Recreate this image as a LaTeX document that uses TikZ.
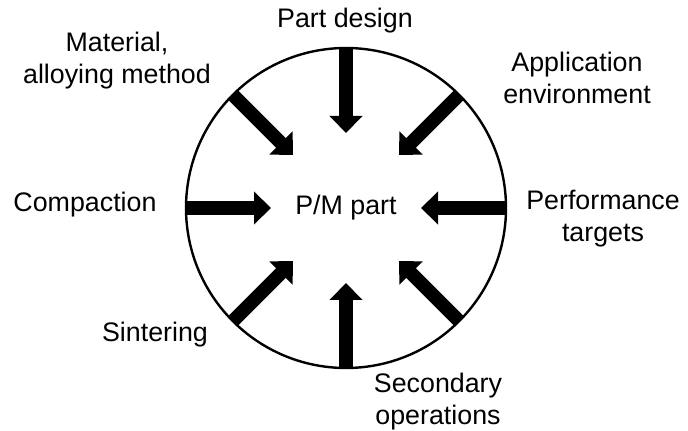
\documentclass[tikz,border=0pt]{standalone}
\usepackage{fontspec}
\setmainfont{Liberation Sans}
\usetikzlibrary{arrows.meta,positioning}

\begin{document}
\begin{tikzpicture}[x=0.5pt,y=-0.5pt,
  font=\fontsize{13.4}{16}\selectfont,
  feed/.style={line width=6.8pt,-{Triangle[width=16pt,length=8.5pt]}},
  lbl/.style={align=center,inner sep=0pt}]
  \useasboundingbox (0,0) rectangle (688,431);
  \node[circle,draw,line width=1.2pt,minimum size=160pt,inner sep=0pt,outer sep=0pt] (hub) at (346,208) {};
  \node[circle,minimum size=75pt,inner sep=0pt,outer sep=0pt] (part) at (hub.center) {P/M part};
  \foreach \a in {0,45,...,315}
    \draw[feed] (hub.\a) -- (part.\a);
  \node[lbl] (design) at (345,21) {Part design};
  \node[lbl] (material) at (117,61) {Material,\\alloying method};
  \node[lbl] (appl) at (577,78) {Application\\environment};
  \node[lbl] (compact) at (85,205) {Compaction};
  \node[lbl] (perf) at (603,219) {Performance\\targets};
  \node[lbl] (sinter) at (155,335) {Sintering};
  \node[lbl] (second) at (438,402) {Secondary\\operations};
\end{tikzpicture}
\end{document}
